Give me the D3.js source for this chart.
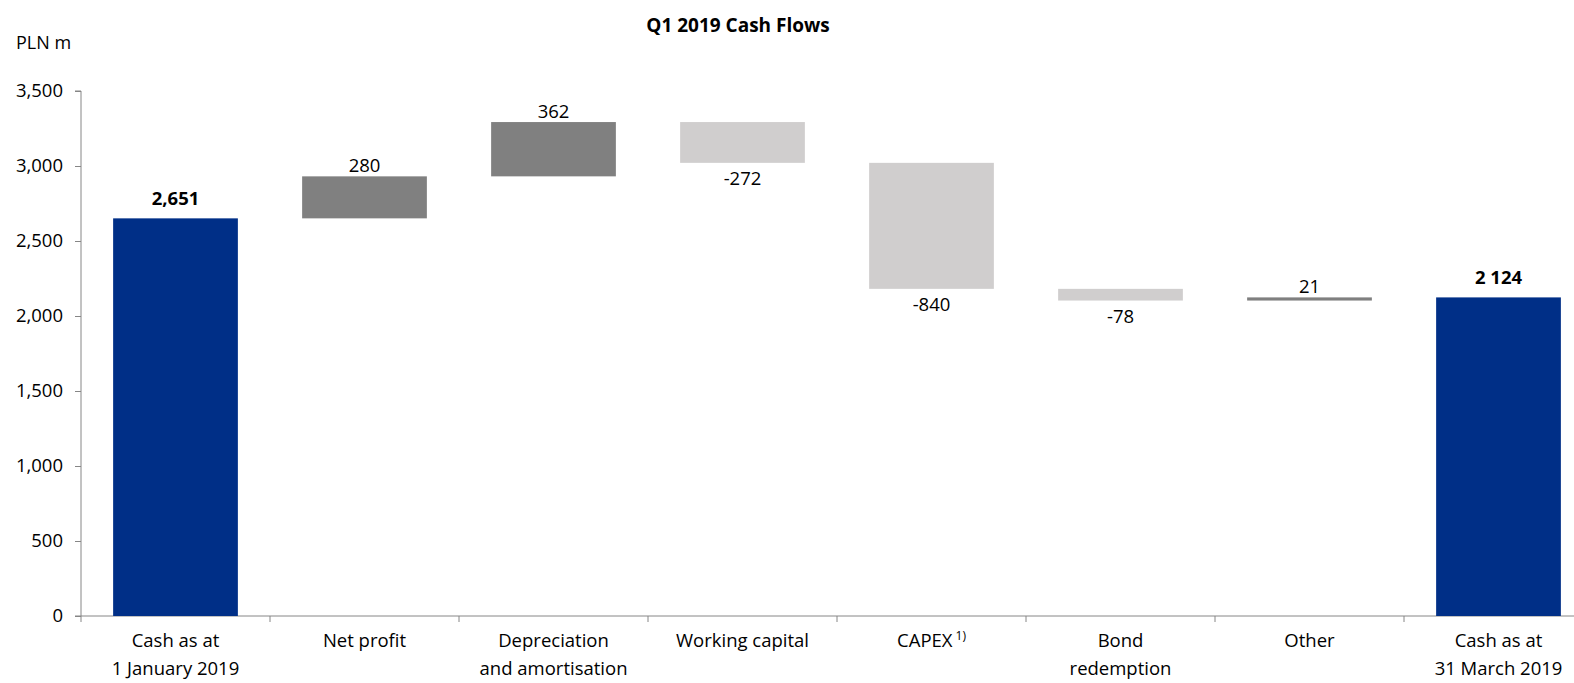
<!DOCTYPE html>
<html>
<head>
<meta charset="utf-8">
<script src="https://cdn.jsdelivr.net/npm/d3@7"></script>
<style>
  body { margin: 0; background: #fff; }
  svg text { font-family: "Open Sans", "Noto Sans", sans-serif; fill: #000; }
</style>
</head>
<body>
<svg id="chart"></svg>
<script>
var w = 1574,
    h = 683;

// data
var categories = [["Cash as at", "1 January 2019"], ["Net profit"], ["Depreciation", "and amortisation"],
  ["Working capital"], ["CAPEX"], ["Bond", "redemption"], ["Other"], ["Cash as at", "31 March 2019"]];
var values = [2651, 280, 362, -272, -840, -78, 21, 2124];
var kinds = ["total", "delta", "delta", "delta", "delta", "delta", "delta", "total"];
var valueLabels = ["2,651", "280", "362", "-272", "-840", "-78", "21", "2 124"];
var yTicks = [0, 500, 1000, 1500, 2000, 2500, 3000, 3500];

var colors = { total: "#002f87", up: "#808080", down: "#d0cece", other: "#7f7f7f" };
var fs = "18.5px";

// running totals
var run = 0;
var bars = values.map(function(v, i) {
  var b;
  if (kinds[i] == "total") { b = { y0: 0, y1: v }; run = v; }
  else { b = { y0: run, y1: run + v }; run += v; }
  b.i = i; b.v = v; b.kind = kinds[i];
  return b;
});

var svg = d3.select("#chart").attr("width", w).attr("height", h);

var x = d3.scaleBand().domain(d3.range(categories.length)).range([81, 1593]).paddingInner(0.34).paddingOuter(0.17);
var y = d3.scaleLinear().domain([0, 3500]).range([616, 91]);

// title
svg.append("text").attr("x", 738).attr("y", 32).attr("text-anchor", "middle")
  .style("font-weight", "bold").style("font-size", "19px").text("Q1 2019 Cash Flows");
svg.append("text").attr("x", 16).attr("y", 49).style("font-size", "18px").text("PLN m");

// y axis
var yAxis = svg.append("g").attr("transform", "translate(81,0)")
  .call(d3.axisLeft(y).tickValues(yTicks).tickSize(6).tickPadding(12).tickFormat(d3.format(",")));
yAxis.select(".domain").attr("stroke", "#868686").attr("d", "M-6,616H0V91H-6");
yAxis.selectAll(".tick line").attr("stroke", "#868686");
yAxis.selectAll(".tick text").style("font-size", fs).attr("fill", "#000");

// x axis
var bw = x.step();
var xAxis = svg.append("g").attr("transform", "translate(0,616)");
xAxis.append("line").attr("x1", 81).attr("x2", 1593).attr("stroke", "#868686");
xAxis.selectAll(".xt").data(d3.range(categories.length + 1)).enter().append("line")
  .attr("x1", function(d) { return 81 + d * bw; })
  .attr("x2", function(d) { return 81 + d * bw; })
  .attr("y1", 0).attr("y2", 6).attr("stroke", "#868686");

var labels = xAxis.selectAll(".cat").data(categories).enter().append("text")
  .attr("text-anchor", "middle")
  .style("font-size", fs)
  .attr("transform", function(d, i) { return "translate(" + (x(i) + x.bandwidth() / 2) + ",31)"; });
labels.each(function(d) {
  var t = d3.select(this);
  d.forEach(function(line, k) {
    t.append("tspan").attr("x", 0).attr("dy", k == 0 ? 0 : 28).text(line);
  });
});
// superscript on CAPEX
labels.filter(function(d, i) { return i == 4; }).append("tspan")
  .attr("dx", 3).attr("dy", -7).style("font-size", "12px").text("1)");

// bars
svg.selectAll(".bar").data(bars).enter().append("rect")
  .attr("x", function(d) { return x(d.i); })
  .attr("width", x.bandwidth())
  .attr("y", function(d) { return y(Math.max(d.y0, d.y1)); })
  .attr("height", function(d) { return Math.abs(y(d.y0) - y(d.y1)); })
  .attr("fill", function(d) {
    if (d.kind == "total") return colors.total;
    if (d.i == 6) return colors.other;
    return d.v > 0 ? colors.up : colors.down;
  });

// value labels
svg.selectAll(".val").data(bars).enter().append("text")
  .attr("text-anchor", "middle")
  .attr("x", function(d) { return x(d.i) + x.bandwidth() / 2; })
  .attr("y", function(d) {
    if (d.kind == "total") return y(d.y1) - 13;
    if (d.v > 0) return y(d.y1) - 4;
    return y(d.y1) + 22;
  })
  .style("font-size", fs)
  .style("font-weight", function(d) { return d.kind == "total" ? "bold" : null; })
  .text(function(d) { return valueLabels[d.i]; });
</script>
</body>
</html>
